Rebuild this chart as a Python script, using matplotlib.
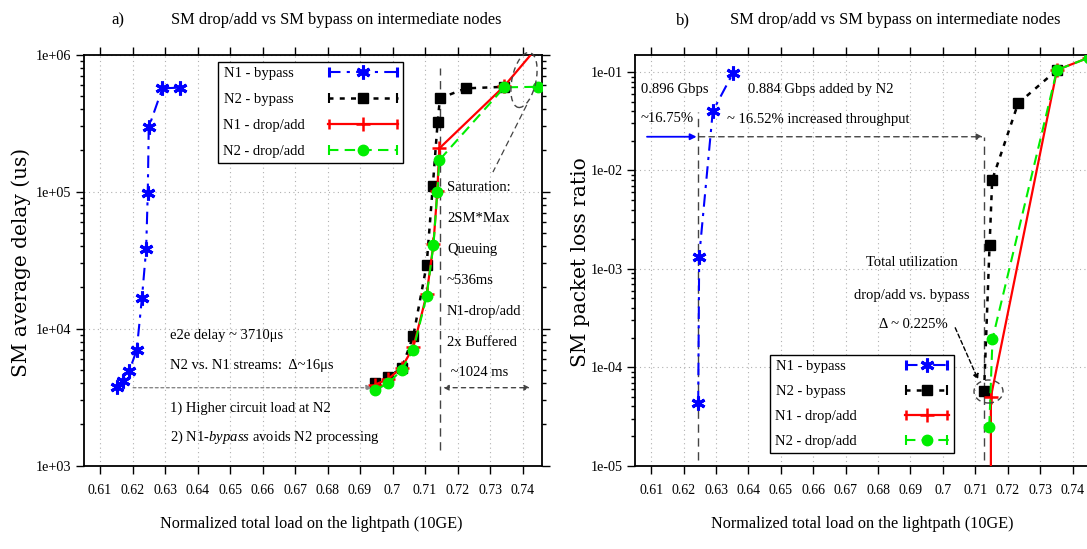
import numpy as np
import matplotlib
matplotlib.use('Agg')
import matplotlib.pyplot as plt
from matplotlib.patches import Ellipse
from matplotlib.transforms import ScaledTranslation
from matplotlib.container import ErrorbarContainer
from matplotlib.legend_handler import HandlerErrorbar
from matplotlib.font_manager import FontProperties
from matplotlib.ticker import LogLocator, NullFormatter

plt.rcParams['font.family'] = ['Liberation Serif', 'DejaVu Serif']
plt.rcParams['mathtext.fontset'] = 'custom'
plt.rcParams['mathtext.rm'] = 'Liberation Serif'
plt.rcParams['mathtext.it'] = 'Liberation Serif:italic'

# ---------------- data ----------------
load_ticks = [0.61, 0.62, 0.63, 0.64, 0.65, 0.66, 0.67, 0.68, 0.69, 0.70, 0.71, 0.72, 0.73, 0.74]
load_tick_labels = ['0.61', '0.62', '0.63', '0.64', '0.65', '0.66', '0.67', '0.68', '0.69',
                    '0.7', '0.71', '0.72', '0.73', '0.74']
series_names = ['N1 - bypass', 'N2 - bypass', 'N1 - drop/add', 'N2 - drop/add']

# panel a) SM average delay (us)
a_n1_bypass_x = [0.6151, 0.6170, 0.6190, 0.6213, 0.6229, 0.6242, 0.6247, 0.6250, 0.6292, 0.6346]
a_n1_bypass_y = [3780, 4170, 4910, 7000, 16700, 38000, 98400, 295000, 568000, 575000]
a_n2_bypass_x = [0.6946, 0.6987, 0.7028, 0.7064, 0.7105, 0.7124, 0.7139, 0.7146, 0.7226, 0.7344]
a_n2_bypass_y = [3990, 4470, 5140, 8850, 29200, 110000, 324000, 481000, 568000, 583000]
a_n1_drop_x = [0.6946, 0.6987, 0.7028, 0.7064, 0.7105, 0.7126, 0.7138, 0.7144, 0.7344, 0.7450]
a_n1_drop_y = [3900, 4300, 5200, 7300, 17800, 41500, 102000, 207000, 590000, 1170000]
a_n2_drop_x = [0.6946, 0.6987, 0.7028, 0.7064, 0.7105, 0.7126, 0.7138, 0.7144, 0.7344, 0.7449]
a_n2_drop_y = [3570, 3990, 5000, 7000, 17300, 40800, 100000, 170000, 578000, 583000]

# panel b) SM packet loss ratio
b_n1_bypass_x = [0.6245, 0.6248, 0.6290, 0.6352]
b_n1_bypass_y = [4.3e-5, 1.33e-3, 0.040, 0.097]
b_n2_bypass_x = [0.7127, 0.7144, 0.7152, 0.7232, 0.7352]
b_n2_bypass_y = [5.7e-5, 1.75e-3, 8.0e-3, 0.048, 0.105]
b_n1_drop_x = [0.7148, 0.7148, 0.7352, 0.7450]
b_n1_drop_y = [1e-6, 5.0e-5, 0.105, 0.140]
b_n2_drop_x = [0.7143, 0.7153, 0.7352, 0.7450]
b_n2_drop_y = [2.5e-5, 1.94e-4, 0.105, 0.140]

# ---------------- styles ----------------
styles = {
    'N1 - bypass': dict(color='#0000ff', ls=(0, (6, 3, 1.5, 3)), lw=1.5, marker=(6, 2, 0),
                        ms=10, mew=2.2, mec='#0000ff'),
    'N2 - bypass': dict(color='black', ls=(0, (2, 2.5)), lw=1.8, marker='s', ms=7.5,
                        mfc='black', mec='black'),
    'N1 - drop/add': dict(color='#ff0000', ls='-', lw=1.6, marker='+', ms=10, mew=1.8,
                          mec='#ff0000'),
    'N2 - drop/add': dict(color='#00ee00', ls=(0, (5, 3)), lw=1.5, marker='o', ms=7.5,
                          mfc='#00ee00', mec='#00ee00'),
}
# trailing padding so that the labels line up on the left inside the legend box
label_pad = {'N1 - bypass': '   ', 'N2 - bypass': '   ', 'N1 - drop/add': '', 'N2 - drop/add': ''}

W, H = 1087, 549
fig = plt.figure(figsize=(W / 100, H / 100), dpi=100)

def fx(px):
    return px / W

def fy(py):
    return 1 - py / H

ax_top, ax_bot = 54.7, 465.7
axA = fig.add_axes([fx(83.75), fy(ax_bot), (542.0 - 83.75) / W, (ax_bot - ax_top) / H])
axB = fig.add_axes([fx(635.0), fy(ax_bot), 457.0 / W, (ax_bot - ax_top) / H])

tick_font = FontProperties(family=['Liberation Serif'], size=10)
ytick_font = FontProperties(family=['Liberation Serif'], size=10.2)

for ax in (axA, axB):
    ax.set_yscale('log')
    ax.set_xlim(0.605, 0.746)
    ax.set_xticks(load_ticks)
    ax.set_xticklabels(load_tick_labels, fontproperties=tick_font)
    ax.tick_params(which='both', direction='out', top=True, right=True)
    ax.tick_params(which='major', length=6, width=1.0)
    ax.tick_params(which='minor', length=3, width=1.0)
    ax.tick_params(axis='x', pad=7)
    ax.tick_params(axis='y', pad=3)
    ax.grid(True, which='major', ls=(0, (1, 3)), color='#b0b0b0', lw=0.8)
    ax.yaxis.set_minor_locator(LogLocator(base=10, subs=np.arange(2, 10)))
    for sp in ax.spines.values():
        sp.set_linewidth(1.3)

axA.set_ylim(1e3, 1e6)
a_yt = [1e3, 1e4, 1e5, 1e6]
axA.set_yticks(a_yt)
axA.set_yticklabels([f'{v:.0e}' for v in a_yt], fontproperties=ytick_font)

axB.set_ylim(1e-5, 0.15)
b_yt = [1e-5, 1e-4, 1e-3, 1e-2, 1e-1]
axB.set_yticks(b_yt)
axB.set_yticklabels([f'{v:.0e}' for v in b_yt], fontproperties=ytick_font)
for ax in (axA, axB):
    ax.yaxis.set_minor_formatter(NullFormatter())

# ---------------- data lines ----------------
a_data = [(a_n1_bypass_x, a_n1_bypass_y), (a_n2_bypass_x, a_n2_bypass_y),
          (a_n1_drop_x, a_n1_drop_y), (a_n2_drop_x, a_n2_drop_y)]
b_data = [(b_n1_bypass_x, b_n1_bypass_y), (b_n2_bypass_x, b_n2_bypass_y),
          (b_n1_drop_x, b_n1_drop_y), (b_n2_drop_x, b_n2_drop_y)]
for ax, data in ((axA, a_data), (axB, b_data)):
    for name, (x, y) in zip(series_names, data):
        ax.plot(x, y, zorder=3, **styles[name])

# ---------------- legends ----------------
def proxies(ax):
    hs = []
    for name in series_names:
        hs.append(ax.errorbar([np.nan], [np.nan], xerr=[0.0], label=name + label_pad[name],
                              capsize=3.5, elinewidth=0, capthick=1.5, **styles[name]))
    return hs

leg_font = FontProperties(family=['Liberation Serif'], size=10.5)
legA = axA.legend(handles=proxies(axA), loc='upper left', bbox_to_anchor=(0.2925, 0.982),
                  markerfirst=False, numpoints=1,
                  handler_map={ErrorbarContainer: HandlerErrorbar(xerr_size=2.3)},
                  prop=leg_font, frameon=True, fancybox=False, edgecolor='black',
                  framealpha=1, borderaxespad=0, borderpad=0.35, labelspacing=0.86,
                  handlelength=4.8, handletextpad=1.6)
legA.get_frame().set_linewidth(1.0)
legB = axB.legend(handles=proxies(axB), loc='upper left', bbox_to_anchor=(0.2954, 0.27),
                  markerfirst=False, numpoints=1,
                  handler_map={ErrorbarContainer: HandlerErrorbar(xerr_size=1.4)},
                  prop=leg_font, frameon=True, fancybox=False, edgecolor='black',
                  framealpha=1, borderaxespad=0, borderpad=0.35, labelspacing=0.8,
                  handlelength=3.0, handletextpad=3.3)
legB.get_frame().set_linewidth(1.0)

# ---------------- annotations panel a ----------------
dash_c = '#444444'
axA.annotate('', xy=(0.6937, 3710), xytext=(0.6202, 3710),
             arrowprops=dict(arrowstyle='-|>', ls=(0, (2, 2)), color='#888888', lw=1.0,
                             shrinkA=0, shrinkB=0, mutation_scale=8))
axA.plot([0.7146, 0.7146], [1300, 8.0e5], color=dash_c, ls=(0, (6, 4)), lw=1.0, zorder=2)
axA.annotate('', xy=(0.7423, 3710), xytext=(0.7156, 3710),
             arrowprops=dict(arrowstyle='<|-|>', ls=(0, (3, 3)), color=dash_c, lw=1.0,
                             shrinkA=0, shrinkB=0, mutation_scale=8))
axA.plot([0.7413, 0.7309], [4.3e5, 1.39e5], color=dash_c, ls=(0, (5, 3)), lw=0.9, zorder=2)

def ell(ax, cx, cy, wpx, hpx, angle):
    pos = ax.get_position()
    fxa = (cx - pos.x0 * W) / (pos.width * W)
    fya = ((H - cy) - pos.y0 * H) / (pos.height * H)
    tr = fig.dpi_scale_trans + ScaledTranslation(fxa, fya, ax.transAxes)
    e = Ellipse((0, 0), wpx / 100, hpx / 100, angle=angle, transform=tr, fill=False,
                ls=(0, (4, 3)), lw=1.0, ec=dash_c, clip_on=False, zorder=4)
    ax.add_patch(e)

ell(axA, 524, 80, 24, 56, -12)

txt_kw = dict(fontsize=10.5, va='center', ha='left')
fig.text(fx(170), fy(335), 'e2e delay ~ 3710\u03bcs', **txt_kw)
fig.text(fx(170), fy(366), 'N2 vs. N1 streams:  \u0394~16\u03bcs', **txt_kw)
fig.text(fx(170), fy(408), '1) Higher circuit load at N2', **txt_kw)
fig.text(fx(170), fy(437), r'2) N1-$\mathit{bypass}$ avoids N2 processing', **txt_kw)
sat_lines = ['Saturation:', '2SM*Max', 'Queuing', '~536ms', 'N1-drop/add', '2x Buffered', ' ~1024 ms']
for i, s in enumerate(sat_lines):
    fig.text(fx(447), fy(187 + 31 * i), s, **txt_kw)

# ---------------- annotations panel b ----------------
axB.plot([0.6244, 0.6244], [1.15e-5, 0.0393], color=dash_c, ls=(0, (6, 4)), lw=1.0, zorder=2)
axB.annotate('', xy=(0.6240, 0.022), xytext=(0.6087, 0.022),
             arrowprops=dict(arrowstyle='-|>', color='#0000ff', lw=1.3,
                             shrinkA=0, shrinkB=0, mutation_scale=9))
axB.annotate('', xy=(0.7123, 0.022), xytext=(0.6248, 0.022),
             arrowprops=dict(arrowstyle='-|>', ls=(0, (4, 3)), color=dash_c, lw=1.0,
                             shrinkA=0, shrinkB=0, mutation_scale=9))
axB.plot([0.7127, 0.7127], [1.15e-5, 0.022], color=dash_c, ls=(0, (6, 4)), lw=1.0, zorder=2)
ell(axB, 988.5, 391.5, 29, 23, 0)
axB.annotate('', xy=(0.7109, 7.46e-5), xytext=(0.7038, 2.52e-4),
             arrowprops=dict(arrowstyle='-|>', ls=(0, (3, 2)), color='black', lw=1.0,
                             shrinkA=0, shrinkB=0, mutation_scale=8))

fig.text(fx(641), fy(89), '0.896 Gbps', **txt_kw)
fig.text(fx(641), fy(119), '~16.75%', **txt_kw)
fig.text(fx(748), fy(89), '0.884 Gbps added by N2', **txt_kw)
fig.text(fx(727), fy(119), '~ 16.52% increased throughput', **txt_kw)
ctr_kw = dict(fontsize=10.5, va='center', ha='center')
fig.text(fx(912), fy(263), 'Total utilization', **ctr_kw)
fig.text(fx(912), fy(295), 'drop/add vs. bypass', **ctr_kw)
fig.text(fx(913), fy(325), '\u0394 ~ 0.225%', **ctr_kw)

# ---------------- titles & labels ----------------
title = 'SM drop/add vs SM bypass on intermediate nodes'
fig.text(fx(118), fy(20), 'a)', fontsize=12, ha='center', va='center')
fig.text(fx(336), fy(20), title, fontsize=11.8, ha='center', va='center')
fig.text(fx(683), fy(20), 'b)', fontsize=12, ha='center', va='center')
fig.text(fx(895), fy(20), title, fontsize=11.8, ha='center', va='center')

xl = 'Normalized total load on the lightpath (10GE)'
fig.text(fx(311), fy(524), xl, fontsize=11.7, ha='center', va='center')
fig.text(fx(862), fy(524), xl, fontsize=11.7, ha='center', va='center')

yl_kw = dict(fontsize=14.5, ha='center', va='center', rotation=90, family=['DejaVu Serif'])
fig.text(fx(21), fy(262), 'SM average delay (us)', **yl_kw)
fig.text(fx(580), fy(262), 'SM packet loss ratio', **yl_kw)

fig.savefig('out.png', dpi=100)
